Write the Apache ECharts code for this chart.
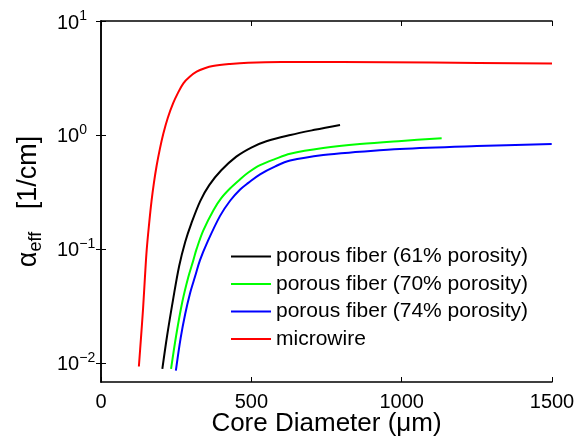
<!DOCTYPE html>
<html lang="en">
<head>
<meta charset="UTF-8">
<title>alpha eff</title>
<script src="https://cdn.jsdelivr.net/npm/echarts@6/dist/echarts.min.js"></script>
<style>
  html, body { margin: 0; padding: 0; background: #fff; }
</style>
</head>
<body>
<div id="main" style="width: 579px; height: 438px"></div>
<script type="text/javascript">
// data (x: core diameter in um, y: alpha_eff in 1/cm)
var seriesNames = ['porous fiber (61% porosity)', 'porous fiber (70% porosity)', 'porous fiber (74% porosity)', 'microwire'];
var seriesColors = ['#000000', '#00ff00', '#0000ff', '#ff0000'];

var fiber61 = [[204, 0.00885], [220, 0.0174], [240, 0.0363], [260, 0.0708], [280, 0.115], [300, 0.166], [330, 0.263],
  [360, 0.363], [400, 0.490], [450, 0.646], [500, 0.776], [550, 0.881], [630, 1.0], [710, 1.109], [795, 1.225]];
var fiber70 = [[233, 0.00885], [250, 0.0174], [270, 0.0339], [290, 0.0562], [307, 0.0794], [318, 0.100], [340, 0.145],
  [374, 0.219], [400, 0.279], [429, 0.339], [462, 0.407], [490, 0.468], [529, 0.543], [580, 0.617], [629, 0.684],
  [739, 0.767], [861, 0.832], [1000, 0.887], [1133, 0.935]];
var fiber74 = [[249, 0.00857], [265, 0.0166], [280, 0.0269], [296, 0.0407], [313, 0.0575], [329, 0.0794], [352, 0.112],
  [396, 0.195], [430, 0.266], [462, 0.331], [490, 0.380], [529, 0.452], [580, 0.531], [629, 0.596], [739, 0.668],
  [861, 0.711], [994, 0.755], [1250, 0.800], [1499, 0.834]];
var microwire = [[126, 0.0093], [133, 0.0166], [140, 0.0302], [146, 0.0557], [152, 0.098], [160, 0.166], [168, 0.263],
  [176, 0.380], [185, 0.537], [196, 0.759], [207, 1.02], [222, 1.41], [240, 1.90], [256, 2.34], [274, 2.84],
  [295, 3.24], [318, 3.59], [345, 3.85], [372, 4.03], [429, 4.20], [489, 4.31], [600, 4.37], [800, 4.37],
  [1100, 4.32], [1500, 4.24]];

var xTicks = [0, 500, 1000, 1500];
var yTicks = [0.01, 0.1, 1, 10];
var yMin = 0.0068, yMax = 10;

var myChart = echarts.init(document.getElementById('main'));

function yLabel(v) {
    var p = Math.round(Math.log10(v));
    return '{b|10}{s|' + (p < 0 ? '\u2212' + (-p) : p) + '}';
}

var tickStyle = { inside: true, length: 5, lineStyle: { color: '#000', width: 1 } };
var lineStyle = { color: '#000', width: 1.5 };
var font = 'Liberation Sans, Arial, sans-serif';

var data = [fiber61, fiber70, fiber74, microwire];

myChart.setOption({
    animation: false,
    textStyle: { fontFamily: font },
    grid: { left: 101, right: 27, top: 21, bottom: 56, outerBoundsMode: 'none', containLabel: false },
    legend: {
        orient: 'vertical',
        left: 226, top: 241,
        icon: 'rect',
        itemWidth: 40, itemHeight: 2, itemGap: 6.5,
        data: seriesNames,
        textStyle: { fontSize: 21, color: '#000', fontFamily: font, lineHeight: 21 }
    },
    xAxis: [{
        type: 'value', min: 0, max: 1500, interval: 500,
        name: 'Core Diameter (\u03bcm)', nameLocation: 'middle', nameGap: 29, nameMoveOverlap: false,
        nameTextStyle: { fontSize: 26, color: '#000', fontFamily: font },
        axisLine: { lineStyle: lineStyle },
        axisTick: tickStyle,
        axisLabel: { fontSize: 20, color: '#000', margin: 10, customValues: xTicks, formatter: function (v) { return String(v); } },
        splitLine: { show: false }
    }, {
        type: 'value', min: 0, max: 1500, interval: 500, position: 'top',
        axisLine: { show: true, lineStyle: lineStyle },
        axisTick: tickStyle,
        axisLabel: { show: false },
        splitLine: { show: false }
    }],
    yAxis: [{
        type: 'log', logBase: 10, min: yMin, max: yMax,
        name: '{a|\u03b1}{s|eff}{b|   [1/cm]}', nameLocation: 'middle', nameGap: 56, nameRotate: 90,
        nameMoveOverlap: false,
        nameTextStyle: {
            color: '#000',
            rich: {
                a: { fontSize: 27, color: '#000', fontFamily: font, lineHeight: 30, verticalAlign: 'top' },
                s: { fontSize: 18, color: '#000', fontFamily: font, lineHeight: 18, verticalAlign: 'bottom' },
                b: { fontSize: 27, color: '#000', fontFamily: font, lineHeight: 30, verticalAlign: 'top' }
            }
        },
        axisLine: { show: true, lineStyle: lineStyle },
        axisTick: Object.assign({ customValues: yTicks }, tickStyle),
        minorTick: { show: false },
        axisLabel: {
            customValues: yTicks, margin: 44, align: 'left',
            formatter: yLabel,
            rich: {
                b: { fontSize: 20, color: '#000', fontFamily: font, lineHeight: 24, verticalAlign: 'bottom' },
                s: { fontSize: 14, color: '#000', fontFamily: font, lineHeight: 8, verticalAlign: 'top' }
            }
        },
        splitLine: { show: false }
    }, {
        type: 'log', logBase: 10, min: yMin, max: yMax, position: 'right',
        axisLine: { show: true, lineStyle: lineStyle },
        axisTick: Object.assign({ customValues: yTicks }, tickStyle),
        axisLabel: { show: false },
        splitLine: { show: false }
    }],
    series: seriesNames.map(function (name, i) {
        return {
            name: name,
            type: 'line',
            data: data[i],
            smooth: 0.35,
            symbol: 'none',
            color: seriesColors[i],
            lineStyle: { color: seriesColors[i], width: 2 }
        };
    })
});
</script>
</body>
</html>
